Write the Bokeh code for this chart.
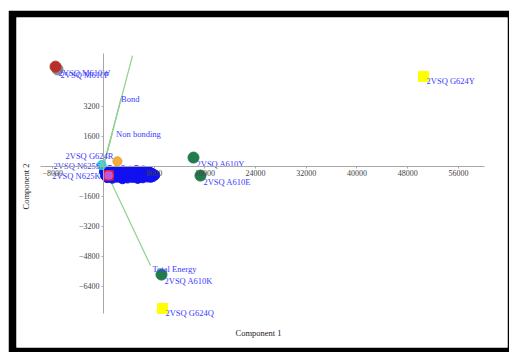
from bokeh.plotting import figure
from bokeh.models import Range1d, FixedTicker, Label
from bokeh.embed import file_html
from bokeh.resources import INLINE
from bokeh.core.properties import value

# ---------------- data ----------------
x_ticks = [-8000, 8000, 16000, 24000, 32000, 40000, 48000, 56000]
y_ticks = [-6400, -4800, -3200, -1600, 1600, 3200]

# labelled circles
circ_names = ["2VSQ M610F", "2VSQ M610W", "2VSQ A610Y", "2VSQ A610E", "2VSQ A610K"]
circ_x = [-7250, -7570, 14200, 15300, 9150]
circ_y = [5150, 5300, 450, -510, -5790]
circ_col = ["#8a8a8a", "#b8302a", "#237a4c", "#237a4c", "#237a4c"]

# labelled squares
sq_names = ["2VSQ G624Y", "2VSQ G624Q"]
sq_x = [50500, 9300]
sq_y = [4770, -7600]

# cluster near the origin
cl_x = [150, 500, 900, 1300, 1700, 2100, 2500, 2900, 3300, 3700, 4100, 4500, 4900,
        5300, 5700, 6100, 6500, 6900, 7300, 7700, 8100,
        600, 1400, 2200, 3000, 3800, 4600, 5400, 6200, 7000, 7800,
        300, 1100, 1900, 2700, 3500, 4300, 5100, 5900, 6700, 7500,
        1000, 2000, 3100, 4200, 5200, 6300, 7200]
cl_y = [-300, -420, -350, -520, -380, -450, -330, -560, -400, -470, -360, -540, -420,
        -380, -500, -440, -360, -520, -450, -400, -480,
        -620, -650, -600, -680, -640, -610, -660, -630, -590, -560,
        -500, -560, -480, -540, -500, -560, -480, -540, -500, -600,
        -250, -270, -260, -280, -250, -270, -300]

acc_names = ["2VSQ G624R", "2VSQ N625S", "2VSQ N625K"]
acc_x = [2200, -300, 800]
acc_y = [250, 50, -500]
acc_col = ["#f0a020", "#20d0d0", "#e060e0"]

# loading vectors
vec_names = ["", "Bond", "Non bonding", "Total Energy"]
vec_x = [4580, 2760, 1360, 7420]
vec_y = [5890, 3600, 1730, -5310]

# ---------------- figure ----------------
p = figure(width=501, height=342, output_backend="svg", toolbar_location=None,
           x_range=Range1d(-13729, 63751), y_range=Range1d(-9680, 7920),
           min_border_left=8, min_border_right=2, min_border_top=7, min_border_bottom=5)
p.margin = (10, 0, 0, 8)
p.background_fill_color = "white"
p.border_fill_color = "black"
p.outline_line_color = None
p.xgrid.visible = False
p.ygrid.visible = False

for ax, ticks in ((p.xaxis, x_ticks), (p.yaxis, y_ticks)):
    ax.fixed_location = 0
    ax.ticker = FixedTicker(ticks=ticks)
    ax.axis_line_color = "#a8a8a8"
    ax.major_tick_line_color = "#a8a8a8"
    ax.major_tick_in = 0
    ax.major_tick_out = 2
    ax.minor_tick_line_color = None
    ax.major_label_text_font = "Liberation Serif"
    ax.major_label_text_font_size = "8px"
    ax.major_label_text_color = "#444444"
    ax.major_label_standoff = 2
p.xaxis.bounds = (-9900, 60100)
p.yaxis.bounds = (-7870, 6000)

font = value("Liberation Serif")
blue = "#3b3bff"

# vectors
p.segment(x0=[0] * len(vec_x), y0=[0] * len(vec_y), x1=vec_x, y1=vec_y,
          line_color="#8fd08f", line_width=1.2)

# cluster
p.scatter(cl_x, cl_y, size=10, marker="circle", fill_color="#1010f0", line_color="#1010f0")
p.scatter(acc_x, acc_y, size=9, marker="circle", fill_color=acc_col, line_color=acc_col,
          fill_alpha=0.85)
p.scatter([acc_x[2]], [acc_y[2]], size=9, marker="square", fill_color=None,
          line_color="#ff2020", line_width=1.2)

# labelled points
p.scatter(circ_x, circ_y, size=11, marker="circle", fill_color=circ_col, line_color=circ_col)
p.scatter(sq_x, sq_y, size=10, marker="square", fill_color="#ffff00", line_color="#ffff00")

tf = dict(text_font=font, text_font_size="8.5px", text_color=blue, text_baseline="middle")
p.text(circ_x, circ_y, text=circ_names, x_offset=3, y_offset=6, **tf)
p.text(sq_x, sq_y, text=sq_names, x_offset=3, y_offset=4, **tf)
p.text(acc_x, acc_y, text=acc_names, x_offset=[-4, -1, -8], y_offset=[-5, 1, 1],
       text_align="right", **tf)
p.text(vec_x, vec_y, text=vec_names, x_offset=[0, 0, 4, 2], y_offset=[0, 0, 0, 3], **tf)

# axis titles
p.add_layout(Label(x=24460, y=-8880, text="Component 1",
                   text_font="Liberation Serif", text_font_size="8.5px",
                   text_align="center", text_baseline="middle", text_color="#222222"))
p.add_layout(Label(x=-12300, y=-1090, text="Component 2",
                   angle=1.5708, text_font="Liberation Serif", text_font_size="8.5px",
                   text_align="center", text_baseline="middle", text_color="#222222"))

open("out.html", "w").write(file_html(p, INLINE))
